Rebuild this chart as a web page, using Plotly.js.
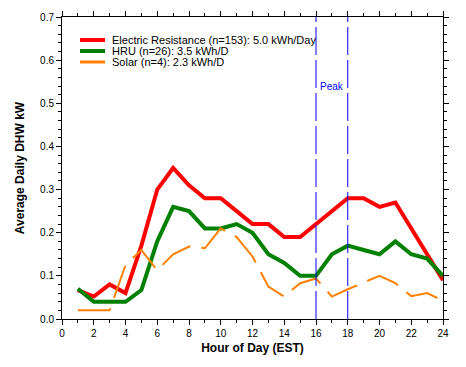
<!DOCTYPE html>
<html>
<head>
<meta charset="utf-8">
<script src="https://cdn.plot.ly/plotly-3.0.1.min.js"></script>
<style>html,body{margin:0;padding:0;background:#fff;}#chart{width:466px;height:367px;}</style>
</head>
<body>
<div id="chart"></div>
<script>
var hours = [1,2,3,4,5,6,7,8,9,10,11,12,13,14,15,16,17,18,19,20,21,22,23,24];
var electric = [0.067,0.052,0.08,0.06,0.17,0.30,0.35,0.31,0.28,0.28,0.25,0.22,0.22,0.19,0.19,0.22,0.25,0.28,0.28,0.26,0.27,0.21,0.15,0.09];
var hru = [0.07,0.04,0.04,0.04,0.067,0.18,0.26,0.25,0.21,0.21,0.22,0.20,0.15,0.13,0.10,0.10,0.15,0.17,0.16,0.15,0.18,0.15,0.14,0.10];
var solar = [0.02,0.02,0.02,0.125,0.16,0.113,0.15,0.168,0.164,0.21,0.19,0.145,0.075,0.052,0.083,0.094,0.052,0.069,0.084,0.10,0.083,0.053,0.06,0.042];
var seriesNames = ["Electric Resistance (n=153): 5.0 kWh/Day","HRU (n=26): 3.5 kWh/D","Solar (n=4): 2.3 kWh/D"];
var seriesColors = ["#ff0000","#008000","#ff8000"];
var peakHours = [16,18];
var peakLabel = "Peak";

var W = 466, H = 367, L = 62, R = 23, T = 17, B = 48;
function px(x){ return (x - L) / (W - L - R); }
function py(y){ return (H - B - y) / (H - T - B); }

var traces = [
  {x: hours, y: electric, mode: 'lines', line: {color: seriesColors[0], width: 4}, name: seriesNames[0]},
  {x: hours, y: hru, mode: 'lines', line: {color: seriesColors[1], width: 4}, name: seriesNames[1]},
  {x: hours, y: solar, mode: 'lines', line: {color: seriesColors[2], width: 2, dash: '34px,11px'}, name: seriesNames[2]}
];

var shapes = [];
peakHours.forEach(function(h){
  shapes.push({type: 'line', xref: 'x', yref: 'paper', x0: h, x1: h, y0: 0, y1: 1,
    line: {color: '#0000ff', width: 1, dash: '28px,5px'}});
});
var annotations = [];
var legY = [40, 51, 62];
for (var i = 0; i < 3; i++) {
  shapes.push({type: 'line', xref: 'paper', yref: 'paper', x0: px(80), x1: px(105), y0: py(legY[i]), y1: py(legY[i]),
    line: {color: seriesColors[i], width: i < 2 ? 4 : 3}});
  annotations.push({xref: 'paper', yref: 'paper', x: px(110), y: py(legY[i]), xanchor: 'left', yanchor: 'middle',
    text: seriesNames[i], showarrow: false, font: {family: 'Liberation Sans, Arial, sans-serif', size: 11, color: '#000'}});
}
annotations.push({xref: 'x', yref: 'y', x: 17, y: 0.54, text: peakLabel, showarrow: false,
  font: {family: 'Liberation Sans, Arial, sans-serif', size: 10, color: '#0000ff'}});

var layout = {
  width: W, height: H,
  margin: {l: L, r: R, t: T, b: B},
  paper_bgcolor: '#fff', plot_bgcolor: '#fff',
  showlegend: false,
  font: {family: 'Liberation Sans, Arial, sans-serif', size: 10, color: '#000'},
  xaxis: {range: [0, 24], dtick: 2, tick0: 0, ticks: 'outside', ticklen: 5, tickcolor: '#000', tickwidth: 1,
    showline: true, linecolor: '#000', linewidth: 1, mirror: 'ticks', showgrid: false, zeroline: false,
    minor: {dtick: 1, ticks: 'outside', ticklen: 3, tickcolor: '#000', showgrid: false},
    title: {text: 'Hour of Day (EST)', font: {size: 12, family: 'Liberation Sans, Arial, sans-serif', weight: 'bold'}, standoff: 5}},
  yaxis: {range: [0, 0.7], dtick: 0.1, tick0: 0, tickformat: '.1f', ticks: 'outside', ticklen: 5, tickcolor: '#000', tickwidth: 1,
    showline: true, linecolor: '#000', linewidth: 1, mirror: 'ticks', showgrid: false, zeroline: false,
    minor: {dtick: 0.02, ticks: 'outside', ticklen: 3, tickcolor: '#000', showgrid: false},
    title: {text: 'Average Daily DHW kW', font: {size: 12, family: 'Liberation Sans, Arial, sans-serif', weight: 'bold'}, standoff: 12}},
  shapes: shapes,
  annotations: annotations
};

Plotly.newPlot('chart', traces, layout, {staticPlot: true, displayModeBar: false});
</script>
</body>
</html>
